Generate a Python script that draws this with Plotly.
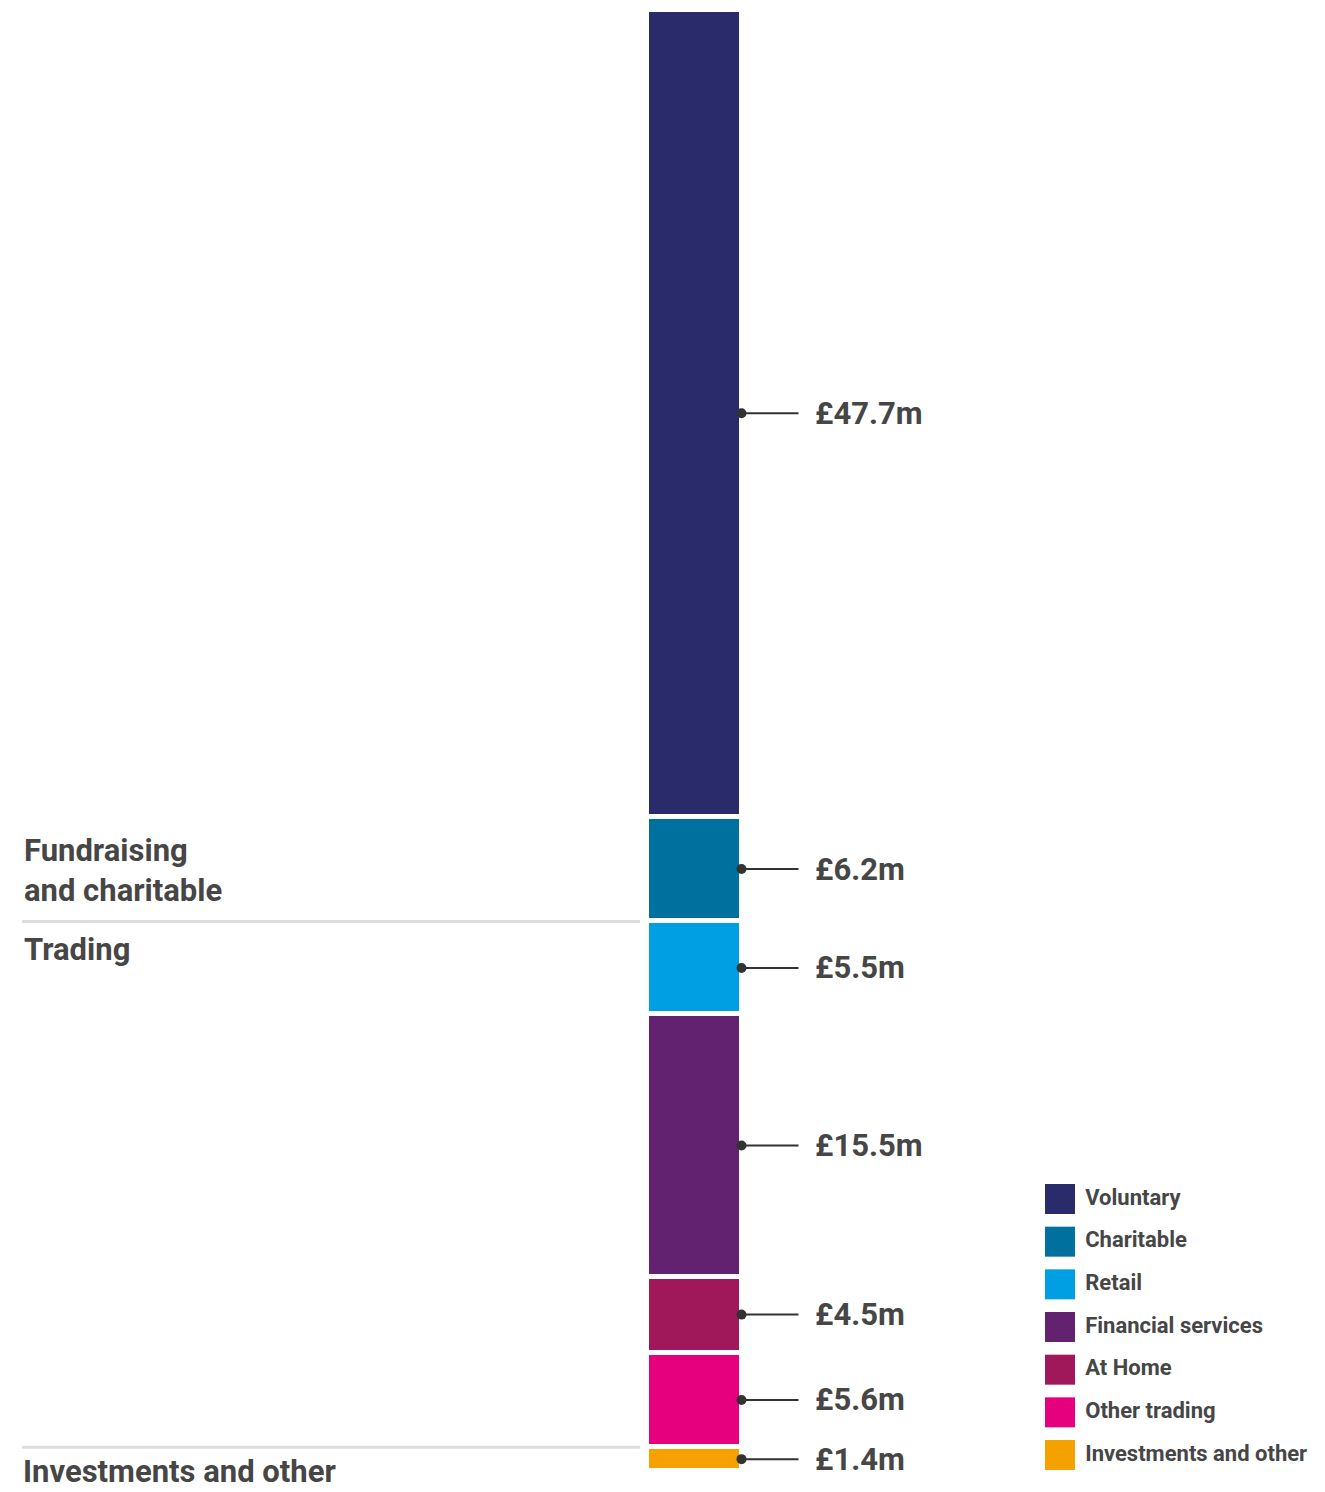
import plotly.graph_objects as go

# ---- data ----
categories = ["Voluntary", "Charitable", "Retail", "Financial services",
              "At Home", "Other trading", "Investments and other"]
values = [47.7, 6.2, 5.5, 15.5, 4.5, 5.6, 1.4]
value_labels = ["£47.7m", "£6.2m", "£5.5m", "£15.5m", "£4.5m", "£5.6m", "£1.4m"]
colors = ["#2a2b6b", "#00709e", "#009fe3", "#63226f", "#a1185a", "#e6007e", "#f5a100"]
group_labels = ["Fundraising<br>and charitable", "Trading", "Investments and other"]
# index of first category in each group
group_starts = [0, 2, 6]

FONT = "Roboto, 'Open Sans', sans-serif"
TEXT_COL = "#464646"

W, H = 1325, 1492
M_T, M_B = 10, 21
BAR_CENTER_PX = 694
BAR_PX = 95

total = sum(values)

fig = go.Figure()

# stack from bottom: add in reverse order
bottoms = {}
acc = 0.0
for i in reversed(range(len(categories))):
    bottoms[i] = acc
    fig.add_trace(go.Bar(
        x=[0], y=[values[i]], width=1, name=categories[i],
        marker=dict(color=colors[i], line=dict(color="white", width=5)),
        showlegend=False, hoverinfo="name+y",
    ))
    acc += values[i]

shapes = []
annotations = []
for i in range(len(categories)):
    mid = bottoms[i] + values[i] / 2
    shapes.append(dict(type="line", xref="x", yref="y", xsizemode="pixel",
                       xanchor=0.5, x0=0, x1=57, y0=mid, y1=mid,
                       line=dict(color="#333333", width=2)))
    shapes.append(dict(type="circle", xref="x", yref="y", xsizemode="pixel",
                       ysizemode="pixel", xanchor=0.5, yanchor=mid,
                       x0=-5, x1=5, y0=-5, y1=5,
                       fillcolor="#333333", line=dict(width=0)))
    annotations.append(dict(x=0.5, y=mid, xref="x", yref="y", text="<b>" + value_labels[i] + "</b>",
                            showarrow=False, xanchor="left", yanchor="middle",
                            xshift=71,
                            font=dict(family=FONT, size=31, color=TEXT_COL)))

# group separators and labels
sep_x0 = 22 / W
sep_x1 = 640 / W
sep1 = bottoms[group_starts[1] - 1]
sep2 = bottoms[group_starts[2] - 1]
for s in (sep1, sep2):
    shapes.append(dict(type="line", xref="paper", yref="y", x0=sep_x0, x1=sep_x1,
                       y0=s, y1=s, line=dict(color="#dddddd", width=3)))

annotations.append(dict(x=sep_x0, y=sep1, xref="paper", yref="y", text="<b>" + group_labels[0] + "</b>",
                        showarrow=False, xanchor="left", yanchor="bottom", yshift=10,
                        align="left",
                        font=dict(family=FONT, size=31, color=TEXT_COL)))
annotations.append(dict(x=sep_x0, y=sep1, xref="paper", yref="y", text="<b>" + group_labels[1] + "</b>",
                        showarrow=False, xanchor="left", yanchor="top", yshift=-8,
                        align="left",
                        font=dict(family=FONT, size=31, color=TEXT_COL)))
annotations.append(dict(x=sep_x0, y=0, xref="paper", yref="paper", text="<b>" + group_labels[2] + "</b>",
                        showarrow=False, xanchor="left", yanchor="bottom", yshift=-(M_B - 1),
                        align="left", borderpad=0,
                        font=dict(family=FONT, size=31, color=TEXT_COL)))

# custom legend (large swatches) drawn as a scatter on a second axis pair
fig.add_trace(go.Scatter(
    x=[0] * len(categories), y=list(range(len(categories))),
    xaxis="x2", yaxis="y2", mode="markers+text",
    marker=dict(symbol="square", size=30, color=colors, line=dict(width=0)),
    text=[" <b>" + c + "</b>" for c in categories], textposition="middle right",
    textfont=dict(family=FONT, size=22, color=TEXT_COL),
    showlegend=False, hoverinfo="skip", cliponaxis=False,
))

plot_h = H - M_T - M_B
left_units = BAR_CENTER_PX / BAR_PX
right_units = (W - BAR_CENTER_PX) / BAR_PX

leg_step = 42.67
leg_first_px = 1199
top_val = -(leg_first_px - M_T) / leg_step
bot_val = top_val + plot_h / leg_step
leg_x_px = 1060

fig.update_layout(
    width=W, height=H,
    margin=dict(l=0, r=0, t=M_T, b=M_B),
    paper_bgcolor="white", plot_bgcolor="white",
    barmode="stack", bargap=0, barcornerradius=3,
    xaxis=dict(range=[-left_units, right_units], visible=False, fixedrange=True),
    yaxis=dict(range=[0, total], visible=False, fixedrange=True),
    xaxis2=dict(range=[-leg_x_px, W - leg_x_px], visible=False, domain=[0, 1],
                anchor="y2", overlaying="x"),
    yaxis2=dict(range=[bot_val, top_val], visible=False, domain=[0, 1],
                anchor="x2", overlaying="y"),
    shapes=shapes,
    annotations=annotations,
    showlegend=False,
)

fig.write_html("out.html")
